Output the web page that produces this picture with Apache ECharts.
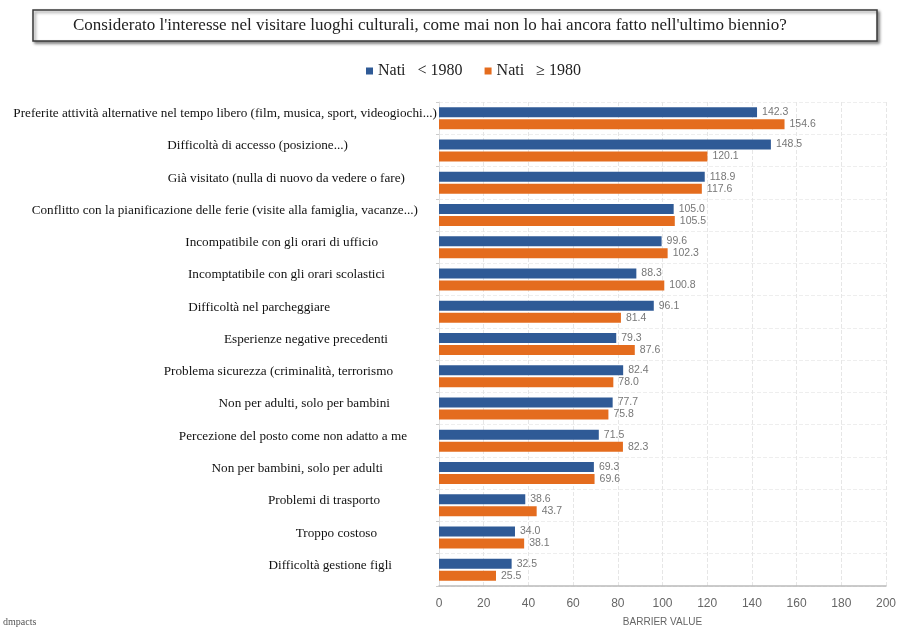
<!DOCTYPE html>
<html>
<head>
<meta charset="utf-8">
<script src="https://cdn.jsdelivr.net/npm/echarts@6/dist/echarts.min.js"></script>
<style>
html,body{margin:0;padding:0;background:#fff;}
#chart{width:914px;height:628px;}
</style>
</head>
<body>
<div id="chart"></div>
<script>
const titleText = "Considerato l'interesse nel visitare luoghi culturali, come mai non lo hai ancora fatto nell'ultimo biennio?";
const categories = [
  "Preferite attività alternative nel tempo libero (film, musica, sport, videogiochi...)",
  "Difficoltà di accesso (posizione...)",
  "Già visitato (nulla di nuovo da vedere o fare)",
  "Conflitto con la pianificazione delle ferie (visite alla famiglia, vacanze...)",
  "Incompatibile con gli orari di ufficio",
  "Incomptatibile con gli orari scolastici",
  "Difficoltà nel parcheggiare",
  "Esperienze negative precedenti",
  "Problema sicurezza (criminalità, terrorismo",
  "Non per adulti, solo per bambini",
  "Percezione del posto come non adatto a me",
  "Non per bambini, solo per adulti",
  "Problemi di trasporto",
  "Troppo costoso",
  "Difficoltà gestione figli"
];
const seriesNames = ["Nati   < 1980", "Nati   ≥ 1980"];
const before1980 = [142.3, 148.5, 118.9, 105.0, 99.6, 88.3, 96.1, 79.3, 82.4, 77.7, 71.5, 69.3, 38.6, 34.0, 32.5];
const from1980 = [154.6, 120.1, 117.6, 105.5, 102.3, 100.8, 81.4, 87.6, 78.0, 75.8, 82.3, 69.6, 43.7, 38.1, 25.5];
const xTicks = {min: 0, max: 200, interval: 20};
const axisName = "BARRIER VALUE";
const footer = "dmpacts";

// label right-gaps (style only) to mimic the irregular label placement
const labelGaps = [0, 89, 32, 19, 59, 52, 107, 49, 44, 47, 30, 54, 57, 60, 45];

const chart = echarts.init(document.getElementById('chart'), null, {renderer: 'canvas'});
const serif = "'Liberation Serif', 'DejaVu Serif', serif";
const sans = "'Liberation Sans', Arial, sans-serif";

const option = {
  backgroundColor: '#ffffff',
  animation: false,
  title: {
    text: titleText,
    left: 73,
    top: 17,
    padding: 0,
    textStyle: {fontFamily: serif, fontSize: 17, fontWeight: 'normal', color: '#222'}
  },
  graphic: [
    {
      type: 'rect', z: -10,
      shape: {x: 33, y: 10, width: 844, height: 31},
      style: {fill: '#fff', stroke: '#3a3a3a', lineWidth: 1.5,
        shadowBlur: 3, shadowColor: 'rgba(0,0,0,0.45)', shadowOffsetX: 2, shadowOffsetY: 2}
    },
    {
      type: 'text', left: 3, top: 617,
      style: {text: footer, font: "10px " + serif, fill: '#555'}
    }
  ],
  legend: {
    data: seriesNames,
    left: 361,
    top: 58,
    icon: 'rect',
    itemWidth: 7,
    itemHeight: 7,
    itemGap: 22,
    textStyle: {fontFamily: serif, fontSize: 16, color: '#222'}
  },
  grid: {left: 439, right: 28, top: 102, bottom: 42, containLabel: false, outerBoundsMode: 'none'},
  xAxis: {
    type: 'value',
    min: xTicks.min, max: xTicks.max, interval: xTicks.interval,
    name: axisName,
    nameLocation: 'middle',
    nameGap: 31,
    nameTextStyle: {fontFamily: sans, fontSize: 10, color: '#666'},
    axisLine: {show: true, lineStyle: {color: '#bbb', width: 1.5}},
    axisTick: {show: false},
    axisLabel: {fontFamily: sans, fontSize: 12, color: '#666', margin: 12},
    splitLine: {show: true, lineStyle: {color: '#e6e6e6', type: 'dashed'}}
  },
  yAxis: {
    type: 'category',
    inverse: true,
    data: categories.map((c, i) => ({
      value: c,
      textStyle: {padding: [0, labelGaps[i], 0, 0]}
    })),
    axisLine: {show: true, lineStyle: {color: '#ddd'}},
    axisTick: {show: true, length: 3, lineStyle: {color: '#ccc'}},
    axisLabel: {
      fontFamily: serif, fontSize: 13.2, color: '#111', margin: 2,
      formatter: v => '{t|' + v + '}',
      rich: {t: {fontFamily: serif, fontSize: 13.2, color: '#111', padding: [0, 0, 9, 0]}}
    },
    splitLine: {show: true, lineStyle: {color: '#eeeeee', type: 'dashed'}}
  },
  series: [
    {
      name: seriesNames[0], type: 'bar', data: before1980,
      barWidth: 10, barGap: '20%',
      itemStyle: {color: '#2f5a96'},
      label: {show: true, position: 'right', distance: 5, fontFamily: sans, fontSize: 10.5, color: '#777',
        formatter: p => p.value.toFixed(1)}
    },
    {
      name: seriesNames[1], type: 'bar', data: from1980,
      barWidth: 10, barGap: '20%',
      itemStyle: {color: '#e46c1e'},
      label: {show: true, position: 'right', distance: 5, fontFamily: sans, fontSize: 10.5, color: '#777',
        formatter: p => p.value.toFixed(1)}
    }
  ]
};
chart.setOption(option);
</script>
</body>
</html>
